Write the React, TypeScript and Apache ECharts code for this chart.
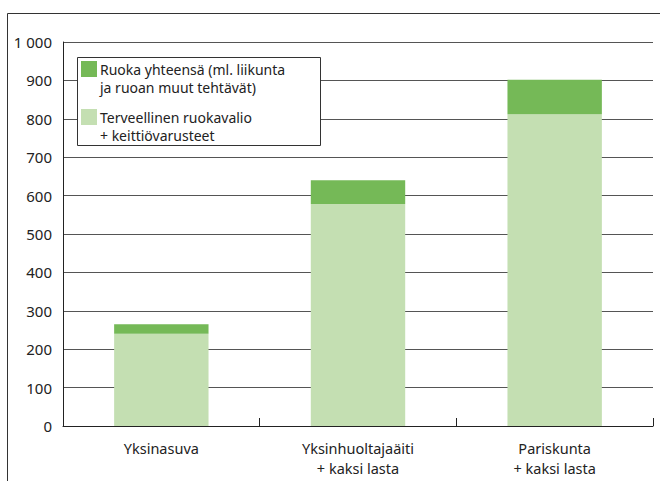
import React, { useEffect, useRef } from "react";
import * as echarts from "echarts";

const categories = ["Yksinasuva", "Yksinhuoltajaäiti\n+ kaksi lasta", "Pariskunta\n+ kaksi lasta"];
const healthyDiet = [240, 578, 812];
const totalFood = [265, 640, 902];
const seriesNames = ["Ruoka yhteensä (ml. liikunta\nja ruoan muut tehtävät)", "Terveellinen ruokavalio\n+ keittiövarusteet"];
const yTicks = [0, 100, 200, 300, 400, 500, 600, 700, 800, 900, 1000];

const DARK = "#75b957";
const LIGHT = "#c4dfb2";
const FONT = "Noto Sans";

export default function App() {
  const ref = useRef<HTMLDivElement>(null);
  useEffect(() => {
    if (!ref.current) return;
    const chart = echarts.init(ref.current, null, { renderer: "svg" });
    const extra = totalFood.map((t, i) => t - healthyDiet[i]);
    chart.setOption({
      animation: false,
      textStyle: { fontFamily: FONT },
      grid: { left: 63, right: 7, top: 42, bottom: 55 },
      xAxis: {
        type: "category",
        data: categories,
        boundaryGap: true,
        axisLine: { lineStyle: { color: "#222", width: 1 } },
        axisTick: { show: true, inside: true, length: 8, lineStyle: { color: "#222" } },
        axisLabel: { color: "#222", fontSize: 14.5, lineHeight: 20, margin: 12, fontFamily: FONT },
      },
      yAxis: {
        type: "value",
        min: yTicks[0],
        max: yTicks[yTicks.length - 1],
        interval: 100,
        axisLine: { show: true, lineStyle: { color: "#222", width: 1 } },
        axisTick: { show: false },
        splitLine: { lineStyle: { color: "#555", width: 1 } },
        axisLabel: {
          color: "#222",
          fontSize: 15,
          margin: 11,
          fontFamily: FONT,
          formatter: (v: number) => (v >= 1000 ? String(v).replace(/\B(?=(\d{3})+(?!\d))/g, " ") : String(v)),
        },
      },
      series: [
        {
          name: seriesNames[1],
          type: "bar",
          stack: "s",
          data: healthyDiet,
          barWidth: "48%",
          itemStyle: { color: LIGHT },
        },
        {
          name: seriesNames[0],
          type: "bar",
          stack: "s",
          data: extra,
          barWidth: "48%",
          itemStyle: { color: DARK },
        },
      ],
      graphic: [
        {
          type: "rect",
          shape: { x: 7.5, y: 13.5, width: 700, height: 500 },
          style: { fill: "none", stroke: "#333", lineWidth: 1 },
          silent: true,
          z: 100,
        },
        {
          type: "rect",
          z: 100,
          shape: { x: 77.5, y: 57.5, width: 243, height: 88 },
          style: { fill: "#fff", stroke: "#333", lineWidth: 1 },
        },
        { type: "rect", z: 101, shape: { x: 81, y: 61, width: 16, height: 16 }, style: { fill: DARK } },
        { type: "rect", z: 101, shape: { x: 81, y: 109, width: 16, height: 16 }, style: { fill: LIGHT } },
        {
          type: "text",
          z: 101,
          x: 100,
          y: 60,
          style: { text: seriesNames[0], fill: "#222", fontSize: 14, lineHeight: 18, fontFamily: FONT, verticalAlign: "top" },
        },
        {
          type: "text",
          z: 101,
          x: 100,
          y: 108,
          style: { text: seriesNames[1], fill: "#222", fontSize: 14, lineHeight: 18, fontFamily: FONT, verticalAlign: "top" },
        },
      ],
    });
    return () => chart.dispose();
  }, []);
  return <div ref={ref} style={{ position: "absolute", left: 0, top: 0, width: 660, height: 481 }} />;
}
